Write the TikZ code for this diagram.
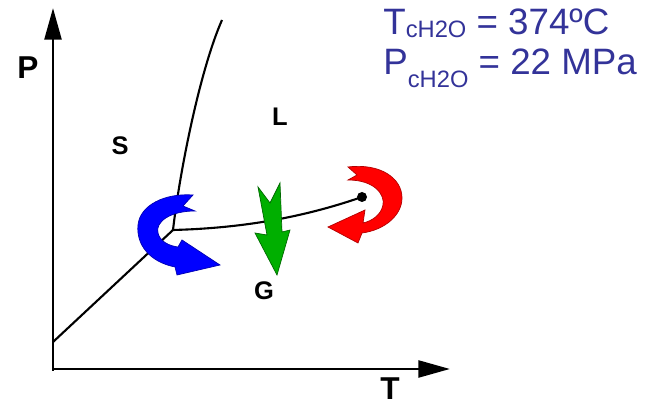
\documentclass[tikz,border=0pt]{standalone}
\usepackage{fontspec}
\setmainfont{Liberation Sans}
\usepackage{tikz}
\usetikzlibrary{arrows.meta,positioning,calc}
\definecolor{critblue}{RGB}{51,51,153}
\definecolor{arrgreen}{RGB}{0,175,0}
\newcommand{\subtxt}[1]{{\fontsize{13.5}{13.5}\selectfont #1}}

\begin{document}
\begin{tikzpicture}[x=0.02cm,y=-0.02cm,
  axis/.style={line width=1.6pt,-{Triangle[length=18pt,width=9.6pt]}},
  phase/.style={line width=1.2pt},
  lbl/.style={font=\bfseries\fontsize{14.5}{14.5}\selectfont},
  axlbl/.style={font=\bfseries\fontsize{18}{18}\selectfont},
  crit/.style={font=\fontsize{20.9}{20.9}\selectfont,text=critblue,inner sep=0pt,anchor=base west}]
\useasboundingbox (0,0) rectangle (650,404);
% axes
\coordinate (O) at (53,369);
\coordinate (Pend) at (53,8);
\coordinate (Tend) at (450,369);
\draw[axis] ($(O)+(0,2)$) -- (Pend);
\draw[axis] ($(O)+(-1,0)$) -- (Tend);
\node[axlbl] (P) at (28,68) {P};
\node[axlbl] (T) at (390,389) {T};
% phase lines
\coordinate (SB) at (53,342);
\coordinate (TP) at (173,230);
\coordinate (FT) at (222,20);
\node[circle,fill,inner sep=0pt,minimum size=5.7pt] (CP) at (362,197) {};
\draw[phase] (SB) -- (TP);
\draw[phase] (TP) .. controls (180,170) and (200,70) .. (FT);
\draw[phase] (TP) .. controls (250,228) and (310,215) .. (CP.center);
\node[lbl] (S) at (120,146) {S};
\node[lbl] (L) at (280,117) {L};
\node[lbl] (G) at (264,291) {G};
% transition arrows
\filldraw[fill=blue,draw=blue!70!black,line width=0.4pt]
  (193,195) -- (183,206) -- (195,211)
  .. controls (170,211) and (155,222) .. (158,233)
  .. controls (160,242) and (170,246) .. (178,247)
  -- (182,240) -- (220,265) -- (177,275) -- (175,267)
  .. controls (150,262) and (136,245) .. (138,225)
  .. controls (140,205) and (165,193) .. (193,195) -- cycle;
\filldraw[fill=arrgreen,draw=arrgreen!60!black,line width=0.4pt]
  (258,187) -- (270,203) -- (280,183) -- (282,232) -- (290,230)
  -- (277,275) -- (255,233) -- (267,235) -- cycle;
\filldraw[fill=red,draw=red!70!black,line width=0.4pt]
  (348,167) -- (357,175) -- (348,180)
  .. controls (375,180) and (385,195) .. (383,205)
  .. controls (381,215) and (372,221) .. (363,223)
  -- (365,210) -- (328,227) -- (358,243) -- (362,233)
  .. controls (385,230) and (402,215) .. (402,198)
  .. controls (402,178) and (380,163) .. (348,167) -- cycle;
% critical point data
\node[crit] (Tc) at (383,35) {T\raisebox{-1.5pt}{\subtxt{cH2O}} = 374ºC};
\node[crit] (Pc) at (383,75) {P\raisebox{-7.4pt}{\subtxt{cH2O}} = 22 MPa};
\end{tikzpicture}
\end{document}
